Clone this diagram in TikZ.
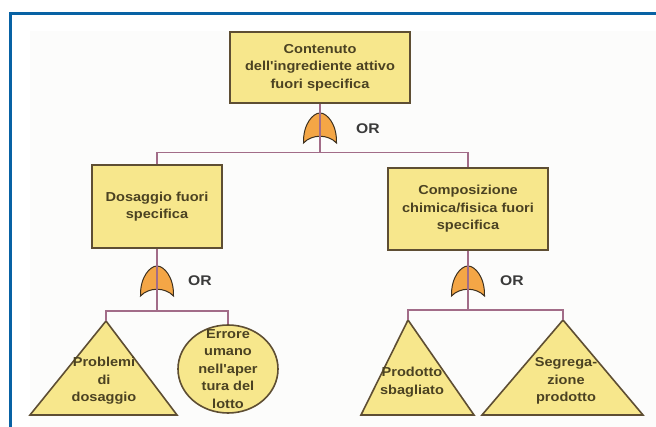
\documentclass[tikz,border=0pt]{standalone}
\usepackage{fontspec}
\setmainfont{Liberation Sans}
\newfontfamily\lblfont{Liberation Sans}[FakeStretch=1.12]
\usetikzlibrary{shapes.geometric}

\definecolor{framebl}{HTML}{0862A4}
\definecolor{panel}{HTML}{FCFCFB}
\definecolor{evfill}{HTML}{F7E78C}
\definecolor{evline}{HTML}{5E4E33}
\definecolor{evtext}{HTML}{4B4222}
\definecolor{wirec}{HTML}{A26C88}
\definecolor{gatefill}{HTML}{F4A646}
\definecolor{gateline}{HTML}{3C3020}
\definecolor{ortext}{HTML}{3A3A3A}

\tikzset{
  evbox/.style={draw=evline, line width=2pt, fill=evfill, rectangle, inner sep=0pt},
  evshape/.style={draw=evline, line width=1.6pt, fill=evfill, line join=miter},
  lbl/.style={text=evtext, align=center, inner sep=0pt,
    font=\lblfont\bfseries\fontsize{13}{17.5}\selectfont},
  wire/.style={draw=wirec, line width=1.5pt},
  gate/.style={draw=gateline, line width=1pt, fill=gatefill},
  orlbl/.style={text=ortext, inner sep=0pt, font=\lblfont\bfseries\fontsize{14}{16}\selectfont},
}

% OR gate whose apex sits at the given coordinate
\newcommand\ORgateAt[1]{%
  \begin{scope}[shift={(#1)}]
    \draw[gate] (-16.5,30) .. controls (-17,11) and (-7,0) .. (0,0)
      .. controls (7,0) and (17,11) .. (16.5,30)
      .. controls (8,21) and (-8,21) .. cycle;
  \end{scope}}

\begin{document}
\begin{tikzpicture}[x=1pt,y=-1pt]
\useasboundingbox (0,0) rectangle (656,427);
\fill[white] (0,0) rectangle (656,427);
\fill[panel] (30,31) rectangle (656,427);
% page frame
\draw[framebl, line width=3pt] (10.5,427) -- (10.5,13.5) -- (656,13.5);

% ---- events ----
\node[evbox, minimum width=180pt, minimum height=71pt] (top) at (320,67.5) {};
\node[lbl] (toptxt) at (top.center) {Contenuto\\dell'ingrediente attivo\\fuori specifica};

\node[evbox, minimum width=130pt, minimum height=83pt] (dos) at (157,206.5) {};
\node[lbl] (dostxt) at (dos.center) {Dosaggio fuori\\specifica};

\node[evbox, minimum width=160pt, minimum height=82pt] (comp) at (468,209) {};
\node[lbl] (comptxt) at (comp.center) {Composizione\\chimica/fisica fuori\\specifica};

% basic events
\coordinate (pA) at (106,321);
\draw[evshape] (pA) -- (30,415) -- (177,415) -- cycle;
\node[lbl] (txtA) at (104,381) {Problemi\\di\\dosaggio};

\node[evshape, ellipse, minimum width=100pt, minimum height=88pt, inner sep=0pt] (eB) at (228,369) {};
\node[lbl] (txtB) at (eB.center) {Errore\\umano\\nell'aper\\tura del\\lotto};

\coordinate (pC) at (408,320);
\draw[evshape] (pC) -- (361,415) -- (474,415) -- cycle;
\node[lbl] (txtC) at (412,382) {Prodotto\\sbagliato};

\coordinate (pD) at (563,320);
\draw[evshape] (pD) -- (482,415) -- (643,415) -- cycle;
\node[lbl] (txtD) at (566,381) {Segrega-\\zione\\prodotto};

% ---- gates ----
\coordinate (g1) at (320,113);
\coordinate (g2) at (157,266);
\coordinate (g3) at (468,266);
\ORgateAt{g1}
\ORgateAt{g2}
\ORgateAt{g3}
\node[orlbl] (or1) at (368,129) {OR};
\node[orlbl] (or2) at (200,281) {OR};
\node[orlbl] (or3) at (512,281) {OR};

% ---- connectors ----
\coordinate (j1) at (320,152.5);
\coordinate (j2) at (157,311);
\coordinate (j3) at (468,310);

\draw[wire] (top.south) -- (j1);
\draw[wire] (dos.north) -- (dos.north |- j1) -- (comp.north |- j1) -- (comp.north);

\draw[wire] (dos.south) -- (j2);
\draw[wire] (pA) -- (pA |- j2) -- (eB.north |- j2) -- (eB.north);

\draw[wire] (comp.south) -- (j3);
\draw[wire] (pC) -- (pC |- j3) -- (pD |- j3) -- (pD);
\end{tikzpicture}
\end{document}
